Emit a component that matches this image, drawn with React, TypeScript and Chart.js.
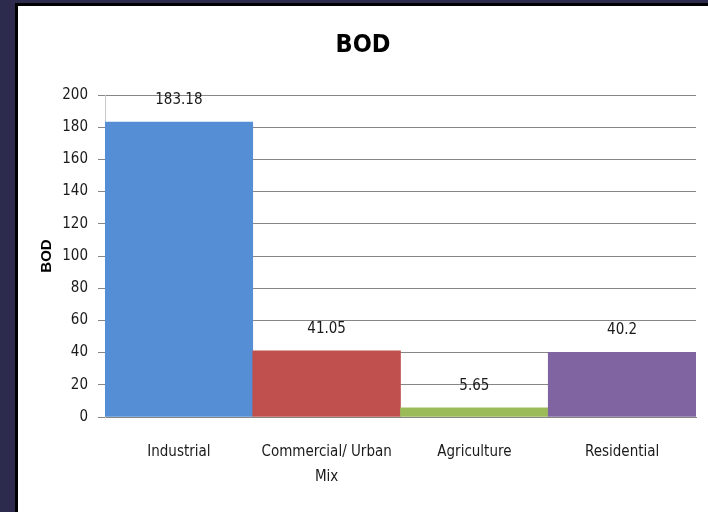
import React, { useEffect, useRef } from "react";
import { Chart, registerables } from "chart.js";

Chart.register(...registerables);

const categories: (string | string[])[] = ["Industrial", ["Commercial/ Urban", "Mix"], "Agriculture", "Residential"];
const bodValues: number[] = [183.18, 41.05, 5.65, 40.2];
const valueLabels: string[] = ["183.18", "41.05", "5.65", "40.2"];
const barColors: string[] = ["#558ed5", "#c0504d", "#9bbb59", "#8064a2"];
const chartTitle = "BOD";
const yAxisTitle = "BOD";
const yMin = 0;
const yMax = 200;
const yStep = 20;

const NARROW = "'Liberation Sans Narrow', 'DejaVu Sans Condensed', 'Arial Narrow', sans-serif";

const valueLabelPlugin = {
  id: "valueLabels",
  afterDatasetsDraw(chart: any) {
    const ctx = chart.ctx;
    const meta = chart.getDatasetMeta(0);
    ctx.save();
    ctx.font = `15px ${NARROW}`;
    ctx.fillStyle = "#1a1a1a";
    ctx.textAlign = "center";
    ctx.textBaseline = "middle";
    meta.data.forEach((bar: any, i: number) => {
      ctx.fillText(valueLabels[i], bar.x, bar.y - 22);
    });
    ctx.restore();
  },
};

export default function App() {
  const canvasRef = useRef<HTMLCanvasElement | null>(null);

  useEffect(() => {
    if (!canvasRef.current) return;
    const chart = new Chart(canvasRef.current, {
      type: "bar",
      data: {
        labels: categories,
        datasets: [
          {
            label: "BOD",
            data: bodValues,
            backgroundColor: barColors,
            borderWidth: 0,
            barPercentage: 1,
            categoryPercentage: 1,
          },
        ],
      },
      options: {
        responsive: false,
        animation: false,
        devicePixelRatio: 1,
        layout: { padding: { left: 12, right: 12, top: 0, bottom: 0 } },
        plugins: {
          legend: { display: false },
          tooltip: { enabled: false },
          title: {
            display: true,
            text: chartTitle,
            color: "#000",
            font: { family: NARROW, size: 25, weight: "bold", lineHeight: 1.2 },
            padding: { top: 24, bottom: 35 },
          },
        },
        scales: {
          x: {
            grid: { display: false, drawTicks: false },
            border: { display: true, color: "#868686", width: 1 },
            ticks: {
              color: "#1a1a1a",
              font: { family: NARROW, size: 15, lineHeight: "25px" as any },
              padding: 23,
              maxRotation: 0,
              autoSkip: false,
            },
            afterFit: (scale: any) => {
              scale.height = 95;
            },
          },
          y: {
            min: yMin,
            max: yMax,
            ticks: {
              stepSize: yStep,
              color: "#1a1a1a",
              font: { family: NARROW, size: 15 },
              padding: 10,
            },
            grid: {
              color: "#868686",
              lineWidth: 1,
              tickLength: 7,
              drawTicks: true,
            },
            border: { display: true, color: "#c8c8c8", width: 1 },
            title: {
              display: true,
              text: yAxisTitle,
              color: "#000",
              font: { family: "'Liberation Sans', Arial, sans-serif", size: 15, weight: "bold" },
              padding: { top: 8, bottom: 0 },
            },
            afterFit: (scale: any) => {
              scale.width = 75;
            },
          },
        },
      },
      plugins: [valueLabelPlugin],
    });
    return () => chart.destroy();
  }, []);

  return (
    <div
      style={{
        position: "fixed",
        left: 0,
        top: 0,
        width: 708,
        height: 512,
        background: "#2c2b4d",
        overflow: "hidden",
      }}
    >
      <div
        style={{
          position: "absolute",
          left: 15,
          top: 3,
          width: 693,
          height: 509,
          background: "#000",
        }}
      />
      <div
        style={{
          position: "absolute",
          left: 18,
          top: 6,
          width: 690,
          height: 506,
          background: "#ffffff",
        }}
      >
        <canvas ref={canvasRef} width={690} height={506} style={{ display: "block" }} />
      </div>
    </div>
  );
}
